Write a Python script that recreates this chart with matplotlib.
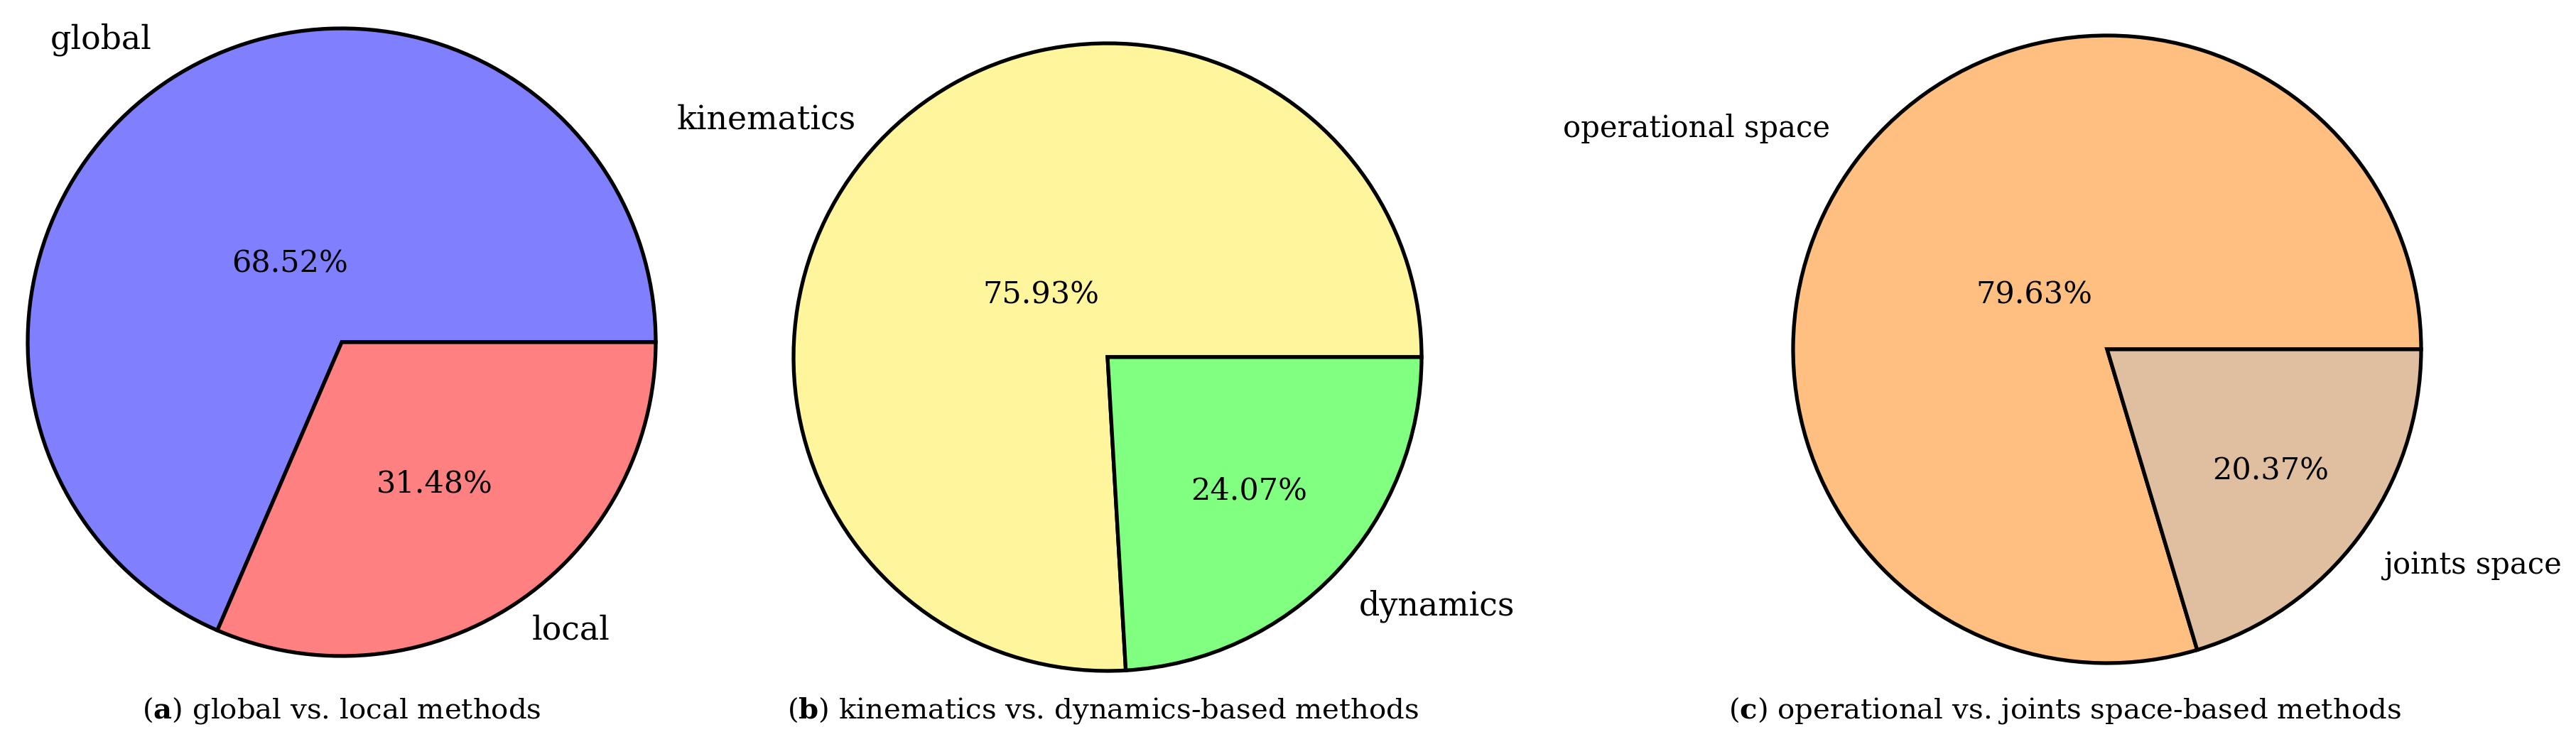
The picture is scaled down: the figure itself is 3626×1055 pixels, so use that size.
import matplotlib
matplotlib.use("Agg")
import numpy as np
import matplotlib.pyplot as plt

plt.rcParams['font.family'] = ['DejaVu Serif']
plt.rcParams['mathtext.fontset'] = 'dejavuserif'

# counts of surveyed methods (54 papers)
labels_a = ['global', 'local']
counts_a = [37, 17]
labels_b = ['kinematics', 'dynamics']
counts_b = [41, 13]
labels_c = ['operational space', 'joints space']
counts_c = [43, 11]

colors_a = ['#8080ff', '#ff8080']
colors_b = ['#fff59d', '#80ff80']
colors_c = ['#ffbf80', '#dfbf9f']

captions = [r'($\mathbf{a}$) global vs. local methods',
            r'($\mathbf{b}$) kinematics vs. dynamics-based methods',
            r'($\mathbf{c}$) operational vs. joints space-based methods']

W, H = 3626, 1055
fig = plt.figure(figsize=(W / 100.0, H / 100.0), dpi=100, facecolor='w')

R = 442.0
# pie centres in pixels (x from left, y from top), pct distance per slice
centres = [(481, 482), (1559, 503), (2966, 492)]
pctdist = [[0.30, 0.54], [0.29, 0.62], [0.29, 0.65]]
lab_y = [[1.05, 1.0], [1.0, 1.05], [1.07, 1.05]]
lab_fs = [33, 33, 30]
cap_x = [481, 1553, 2906]

data = [(labels_a, counts_a, colors_a),
        (labels_b, counts_b, colors_b),
        (labels_c, counts_c, colors_c)]

for i, (labs, vals, cols) in enumerate(data):
    cx, cy = centres[i]
    ax = fig.add_axes([(cx - R) / W, (H - cy - R) / H, 2 * R / W, 2 * R / H])
    wedges, texts, autotexts = ax.pie(vals, labels=labs, colors=cols, autopct='%.2f%%',
                                      startangle=0, counterclock=True, labeldistance=1.1,
                                      wedgeprops=dict(edgecolor='k', linewidth=3.8),
                                      textprops=dict(fontsize=lab_fs[i]))
    # move percentages to per-slice distances
    for w, t, d in zip(wedges, autotexts, pctdist[i]):
        ang = np.deg2rad(0.5 * (w.theta1 + w.theta2))
        t.set_position((d * np.cos(ang), d * np.sin(ang)))
        t.set_fontsize(31)
    for t, f in zip(texts, lab_y[i]):
        x, y = t.get_position()
        t.set_position((x, y * f))
    ax.set_xlim(-1, 1)
    ax.set_ylim(-1, 1)
    ax.set_aspect('equal')
    ax.axis('off')
    fig.text(cap_x[i] / W, 43.0 / H, captions[i], ha='center', va='baseline', fontsize=29)

plt.savefig('out.png', dpi=100, facecolor='w')
